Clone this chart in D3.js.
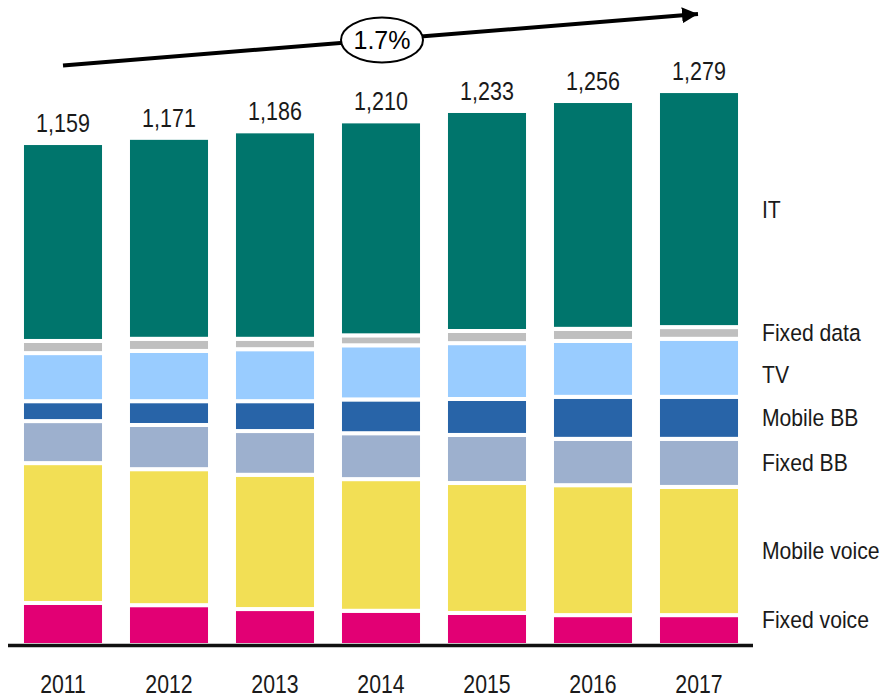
<!DOCTYPE html>
<html>
  <head>
    <meta charset="utf-8">
    <title>Revenue by segment</title>
    <script src="https://d3js.org/d3.v7.min.js"></script>
    <style>
      body { margin: 0; background: #fff; }
      text { font-family: "Liberation Sans", Arial, sans-serif; fill: #1a1a1a; }
    </style>
  </head>
  <body>
    <svg></svg>
    <script>
      // values (bottom to top)
      var years = ['2011', '2012', '2013', '2014', '2015', '2016', '2017'];
      var fixedVoice  = [97, 92, 83, 79, 74, 69, 69];
      var mobileVoice = [323, 314, 310, 304, 300, 300, 296];
      var fixedBB     = [97, 102, 101, 106, 111, 107, 111];
      var mobileBB    = [46, 55, 69, 78, 83, 97, 97];
      var tv          = [111, 116, 120, 125, 129, 129, 134];
      var fixedData   = [28, 28, 24, 23, 28, 28, 27];
      var it          = [457, 464, 479, 494, 508, 526, 545];
      var totals      = [1159, 1171, 1186, 1210, 1233, 1256, 1279];
      var seriesNames = ['Fixed voice', 'Mobile voice', 'Fixed BB', 'Mobile BB', 'TV', 'Fixed data', 'IT'];
      var cagrLabel = '1.7%';

      var colors = ['#E20074', '#F2DF55', '#9DB0CE', '#2864A8', '#99CCFF', '#BFBFBF', '#00756C'];
      var seriesValues = [fixedVoice, mobileVoice, fixedBB, mobileBB, tv, fixedData, it];

      var rows = years.map(function(y, i) {
        var r = { year: y };
        seriesNames.forEach(function(s, k) { r[s] = seriesValues[k][i]; });
        return r;
      });

      var svg = d3.select('svg').attr('width', 881).attr('height', 697);

      var x = d3.scaleBand()
                .domain(years)
                .range([10, 752])
                .paddingInner(0.226)
                .paddingOuter(0.113);

      var y = d3.scaleLinear()
                .domain([0, 1300])
                .range([645, 645 - 1300 * 0.4331]);

      // no narrow font installed, so squeeze the text sideways
      var squeeze = function(px, py, sx) {
        return 'translate(' + px + ',' + py + ') scale(' + sx + ',1)';
      };

      var layers = d3.stack().keys(seriesNames)(rows);

      // stacked bars, white stroke gives the gaps between segments
      svg.selectAll('g.layer')
         .data(layers)
         .enter().append('g')
         .attr('class', 'layer')
         .attr('fill', function(d, i) { return colors[i]; })
         .selectAll('rect')
         .data(function(d) { return d; })
         .enter().append('rect')
         .attr('x', function(d) { return x(d.data.year); })
         .attr('y', function(d) { return y(d[1]); })
         .attr('width', x.bandwidth())
         .attr('height', function(d) { return y(d[0]) - y(d[1]); })
         .attr('stroke', '#fff')
         .attr('stroke-width', 4);

      // totals above bars
      svg.selectAll('text.total')
         .data(years)
         .enter().append('text')
         .attr('class', 'total')
         .attr('transform', function(d, i) {
           return squeeze(x(d) + x.bandwidth() / 2, y(totals[i]) - 11, 0.86);
         })
         .attr('text-anchor', 'middle')
         .style('font-size', '25px')
         .text(function(d, i) { return d3.format(',')(totals[i]); });

      // baseline
      svg.append('line')
         .attr('x1', 8).attr('x2', 753)
         .attr('y1', 645.5).attr('y2', 645.5)
         .attr('stroke', '#111')
         .attr('stroke-width', 3.5);

      // year labels
      svg.selectAll('text.year')
         .data(years)
         .enter().append('text')
         .attr('class', 'year')
         .attr('transform', function(d) {
           return squeeze(x(d) + x.bandwidth() / 2, 693, 0.85);
         })
         .attr('text-anchor', 'middle')
         .style('font-size', '25px')
         .text(function(d) { return d; });

      // series labels on the right, next to the last bar
      var last = layers.map(function(l) { return l[l.length - 1]; });
      svg.selectAll('text.series')
         .data(seriesNames)
         .enter().append('text')
         .attr('class', 'series')
         .attr('transform', function(d, i) {
           var mid = (y(last[i][0]) + y(last[i][1])) / 2;
           if (d === 'TV') mid += 7;
           return squeeze(762, Math.min(mid, 620), 0.9);
         })
         .attr('dy', '0.36em')
         .style('font-size', '23.5px')
         .text(function(d) { return d; });

      // growth arrow
      svg.append('defs').append('marker')
         .attr('id', 'head')
         .attr('viewBox', '0 0 10 10')
         .attr('refX', 10).attr('refY', 5)
         .attr('markerWidth', 4).attr('markerHeight', 4)
         .attr('markerUnits', 'strokeWidth')
         .attr('orient', 'auto')
         .append('path')
         .attr('d', 'M0,0 L10,5 L0,10 Z')
         .attr('fill', '#000');

      svg.append('line')
         .attr('x1', 63).attr('y1', 65.5)
         .attr('x2', 698).attr('y2', 14)
         .attr('stroke', '#000')
         .attr('stroke-width', 4)
         .attr('marker-end', 'url(#head)');

      svg.append('ellipse')
         .attr('cx', 382).attr('cy', 40)
         .attr('rx', 41).attr('ry', 22.5)
         .attr('fill', '#fff')
         .attr('stroke', '#000')
         .attr('stroke-width', 2);

      svg.append('text')
         .attr('x', 382).attr('y', 49)
         .attr('text-anchor', 'middle')
         .style('font-size', '25px')
         .style('fill', '#000')
         .text(cagrLabel);
    </script>
  </body>
</html>
